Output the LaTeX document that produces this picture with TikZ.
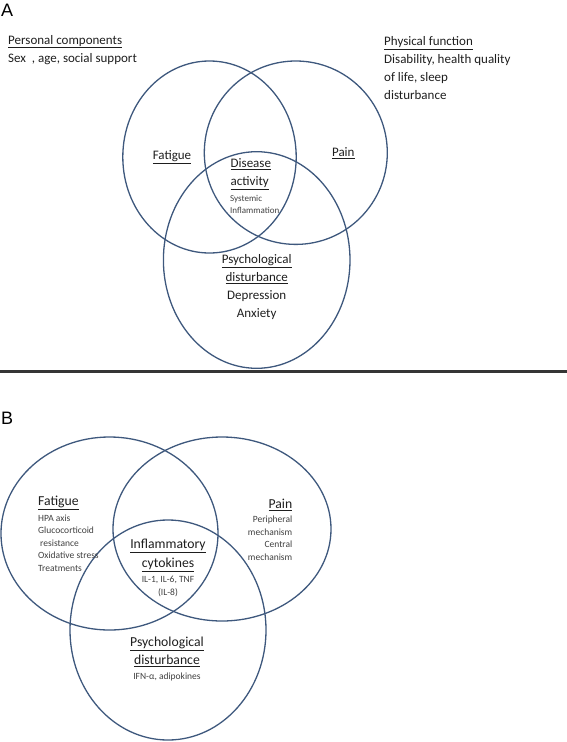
\documentclass[tikz,border=0pt]{standalone}
\usepackage{fontspec}
\setmainfont{Carlito}
\newfontfamily\panelfont{Liberation Sans}
\usetikzlibrary{positioning}
\definecolor{ringblue}{RGB}{62,88,125}
\definecolor{inkgray}{RGB}{30,30,30}
\newcommand{\hd}[1]{\underline{#1}}

\begin{document}
\begin{tikzpicture}[
		x=1pt, y=-1pt,
		ring/.style={draw=ringblue, line width=1.3pt},
		head/.style={inner sep=0pt, text=inkgray, font=\fontsize{13}{18}\selectfont},
		headB/.style={inner sep=0pt, text=inkgray, font=\fontsize{13.7}{18.5}\selectfont},
		small/.style={inner sep=0pt, text=inkgray!85, font=\fontsize{9}{12}\selectfont},
		smallB/.style={inner sep=0pt, text=inkgray!85, font=\fontsize{9.5}{12.4}\selectfont},
		panel/.style={inner sep=0pt, font=\panelfont\fontsize{18}{20}\selectfont}
		]
		
		\useasboundingbox (0,0) rectangle (567,742);
		
		% --------------------------------------------------
		% Panel A
		% --------------------------------------------------
		\node[panel, anchor=west] (labA) at (1,10) {A};
		
		\node[head, align=left, anchor=west] (personal) at (8,49.7) {%
			\hd{Personal components}\\
			Sex\ \ , age, social support
		};
		\node[head, align=left, anchor=west] (physical) at (384,67.8) {%
			\hd{Physical function}\\
			Disability, health quality\\
			of life, sleep\\
			disturbance
		};
		
		\draw[ring] (209.5,157) ellipse [x radius=86.7pt, y radius=96pt];
		\draw[ring] (295.8,152.7) ellipse [x radius=91.5pt, y radius=91.7pt];
		\draw[ring] (256.7,260) ellipse [x radius=93.3pt, y radius=108.3pt];
		
		\node[head] (fatA) at (172,157) {\hd{Fatigue}};
		\node[head] (painA) at (343.3,153.3) {\hd{Pain}};
		\node[head, align=left, anchor=west] (disA) at (230.5,174) {%
			\hd{Disease}\\
			\hd{activity}
		};
		\node[small, align=left, anchor=west] (sysA) at (230,204.7) {%
			Systemic\\
			Inflammation
		};
		\node[head, align=center] (psyA) at (256.7,287.5) {%
			\hd{Psychological}\\
			\hd{disturbance}\\
			Depression\\
			Anxiety
		};
		
		% separator
		\draw[line width=2.5pt, draw=inkgray!90] (0,371.5) -- (567,371.5);
		
		% --------------------------------------------------
		% Panel B
		% --------------------------------------------------
		\node[panel, anchor=west] (labB) at (1,418.5) {B};
		
		\draw[ring] (109.5,533.5) ellipse [x radius=108.5pt, y radius=96.5pt];
		\draw[ring] (222,529) ellipse [x radius=109pt, y radius=92pt];
		\draw[ring] (168,630) ellipse [x radius=98pt, y radius=110pt];
		
		\node[headB, anchor=west] (fatB) at (38,503.3) {\hd{Fatigue}};
		\node[smallB, align=left, anchor=west] (fatBsub) at (38,543) {%
			HPA axis\\
			Glucocorticoid\\
			\hspace{2pt}resistance\\
			Oxidative stress\\
			Treatments
		};
		
		\node[headB, anchor=east] (painB) at (292.5,505) {\hd{Pain}};
		\node[smallB, align=right, anchor=east] (painBsub) at (292.5,538.3) {%
			Peripheral\\
			mechanism\\
			Central\\
			mechanism
		};
		
		\node[headB, align=center] (cytB) at (168,555.5) {%
			\hd{Inflammatory}\\
			\hd{cytokines}
		};
		\node[smallB, align=center] (cytBsub) at (168,586.5) {%
			IL-1, IL-6, TNF\\
			(IL-8)
		};
		
		\node[headB, align=center] (psyB) at (167,652) {%
			\hd{Psychological}\\
			\hd{disturbance}
		};
		\node[smallB] (psyBsub) at (167,677) {IFN-α, adipokines};
		
	\end{tikzpicture}
\end{document}
